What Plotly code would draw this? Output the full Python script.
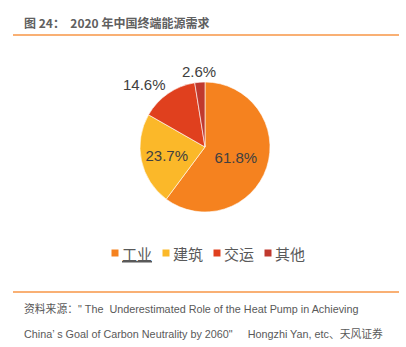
import math
import plotly.graph_objects as go

# 2020 China final energy demand by sector (%)
sectors = ["工业", "建筑", "交运", "其他"]
shares = [61.8, 23.7, 14.6, 2.6]
colors = ["#F5821F", "#FBB829", "#E0401E", "#C0392E"]
inside = [True, True, False, False]

W, H = 406, 347
latin_font = "Arial, 'Liberation Sans', 'Noto Sans CJK SC', sans-serif"
cjk_font = "'Noto Sans CJK SC', sans-serif"

def px_x(x):
    return x / W

def px_y(y):
    return 1 - y / H

# pie geometry in pixels
cx, cy, r = 205, 147, 65

fig = go.Figure(go.Pie(
    labels=sectors,
    values=shares,
    sort=False,
    direction="clockwise",
    rotation=0,
    marker=dict(colors=colors, line=dict(width=0.6, color="white")),
    texttemplate="%{value:.1f}%",
    textposition=["inside" if f else "none" for f in inside],
    insidetextorientation="horizontal",
    textfont=dict(size=15, color="#404040", family=latin_font),
    domain=dict(x=[px_x(cx - r), px_x(cx + r)], y=[px_y(cy + r), px_y(cy - r)]),
    showlegend=False,
    hoverinfo="label+percent",
))

annotations = []

# outside value labels placed just beyond each small slice's mid-angle
total = sum(shares)
cum = 0.0
for name, v, f in zip(sectors, shares, inside):
    mid = (cum + v / 2) / total * 2 * math.pi
    cum += v
    if f:
        continue
    s, c = math.sin(mid), math.cos(mid)
    reach = r + 7
    ax, ay = cx + reach * s, cy - reach * c
    xanchor = "right" if s < -0.2 else "center"
    annotations.append(dict(
        text=f"{v:.1f}%", x=px_x(ax), y=px_y(ay),
        xref="paper", yref="paper", xanchor=xanchor, yanchor="bottom",
        xshift=4 if xanchor == "right" else 0,
        yshift=-7,
        showarrow=False,
        font=dict(size=15, color="#404040", family=latin_font),
    ))

# legend row: square marker + label per sector
shapes = [
    dict(type="line", xref="paper", yref="paper",
         x0=px_x(13), x1=px_x(399), y0=px_y(35), y1=px_y(35),
         line=dict(color="#F79646", width=1.5)),
    dict(type="line", xref="paper", yref="paper",
         x0=px_x(13), x1=px_x(399), y0=px_y(292), y1=px_y(292),
         line=dict(color="#F79646", width=1.5)),
]
leg_x0, leg_pitch, leg_y = 111.5, 51, 253
for i, (name, col) in enumerate(zip(sectors, colors)):
    x0 = leg_x0 + leg_pitch * i
    shapes.append(dict(type="rect", xref="paper", yref="paper",
                       x0=px_x(x0), x1=px_x(x0 + 7),
                       y0=px_y(leg_y + 3.5), y1=px_y(leg_y - 3.5),
                       fillcolor=col, line=dict(width=0)))
    label = f"<u>{name}</u>" if i == 0 else name
    annotations.append(dict(
        text=label, x=px_x(x0 + 8.5), y=px_y(leg_y),
        xref="paper", yref="paper", xanchor="left", yanchor="middle",
        showarrow=False,
        font=dict(size=15, color="#595959", family=cjk_font),
    ))

annotations += [
    dict(text="<b>图 24：  2020 年中国终端能源需求</b>", x=px_x(22), y=px_y(22),
         xref="paper", yref="paper", xanchor="left", yanchor="middle",
         showarrow=False,
         font=dict(size=12, color="#606060", family=cjk_font)),
    dict(text="资料来源：\" The  Underestimated Role of the Heat Pump in Achieving",
         x=px_x(22), y=px_y(308), xref="paper", yref="paper",
         xanchor="left", yanchor="middle", showarrow=False,
         font=dict(size=10.8, color="#595959", family=latin_font)),
    dict(text="China’ s Goal of Carbon Neutrality by 2060\"     Hongzhi Yan, etc、天风证券",
         x=px_x(22), y=px_y(333), xref="paper", yref="paper",
         xanchor="left", yanchor="middle", showarrow=False,
         font=dict(size=10.8, color="#595959", family=latin_font)),
]

fig.update_layout(
    width=W, height=H,
    margin=dict(l=0, r=0, t=0, b=0),
    paper_bgcolor="white",
    plot_bgcolor="white",
    font=dict(family=latin_font, color="#595959"),
    shapes=shapes,
    annotations=annotations,
)

fig.write_html("out.html")
